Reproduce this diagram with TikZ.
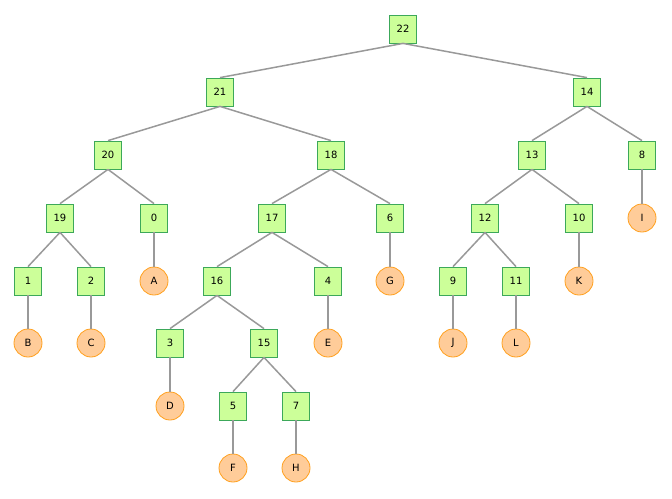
\documentclass[tikz,border=0pt]{standalone}
\usepackage{fontspec}
\setmainfont{DejaVu Sans}
\usepackage{tikz}
\usetikzlibrary{positioning}
\definecolor{boxfill}{HTML}{CCFF99}
\definecolor{boxline}{HTML}{3CA85A}
\definecolor{leaffill}{HTML}{FFCC99}
\definecolor{leafline}{HTML}{FFA01E}
\definecolor{edgegray}{HTML}{999999}
\tikzset{
  inner/.style = {
    rectangle, draw=boxline, fill=boxfill, line width=0.8pt,
    minimum width=27pt, minimum height=28pt, inner sep=0pt,
    font=\fontsize{10}{12}\selectfont
  },
  leaf/.style = {
    circle, draw=leafline, fill=leaffill, line width=0.8pt,
    minimum size=28pt, inner sep=0pt,
    font=\fontsize{10}{12}\selectfont
  },
  edge/.style = {draw=edgegray, line width=1.5pt}
}
\begin{document}
\begin{tikzpicture}[x=1pt, y=-1pt]
  \useasboundingbox (0,0) rectangle (672,498);

  % Internal nodes
  \node[inner] (n22) at (403,29)  {22};
  \node[inner] (n21) at (220,92)  {21};
  \node[inner] (n14) at (587,92)  {14};
  \node[inner] (n20) at (108,155) {20};
  \node[inner] (n18) at (331,155) {18};
  \node[inner] (n13) at (532,155) {13};
  \node[inner] (n8)  at (642,155) {8};
  \node[inner] (n19) at (60,218)  {19};
  \node[inner] (n0)  at (154,218) {0};
  \node[inner] (n17) at (272,218) {17};
  \node[inner] (n6)  at (390,218) {6};
  \node[inner] (n12) at (485,218) {12};
  \node[inner] (n10) at (579,218) {10};
  \node[inner] (n1)  at (28,281)  {1};
  \node[inner] (n2)  at (91,281)  {2};
  \node[inner] (n16) at (217,281) {16};
  \node[inner] (n4)  at (328,281) {4};
  \node[inner] (n9)  at (453,281) {9};
  \node[inner] (n11) at (516,281) {11};
  \node[inner] (n3)  at (170,343) {3};
  \node[inner] (n15) at (264,343) {15};
  \node[inner] (n5)  at (233,406) {5};
  \node[inner] (n7)  at (296,406) {7};

  % Leaves
  \node[leaf] (lI) at (642,218) {I};
  \node[leaf] (lA) at (154,281) {A};
  \node[leaf] (lG) at (390,281) {G};
  \node[leaf] (lK) at (579,281) {K};
  \node[leaf] (lB) at (28,343)  {B};
  \node[leaf] (lC) at (91,343)  {C};
  \node[leaf] (lE) at (328,343) {E};
  \node[leaf] (lJ) at (453,343) {J};
  \node[leaf] (lL) at (516,343) {L};
  \node[leaf] (lD) at (170,406) {D};
  \node[leaf] (lF) at (233,468) {F};
  \node[leaf] (lH) at (296,468) {H};

  % Edges, parent bottom to child top
  \draw[edge] (n22.south) -- (n21.north) (n22.south) -- (n14.north);
  \draw[edge] (n21.south) -- (n20.north) (n21.south) -- (n18.north);
  \draw[edge] (n14.south) -- (n13.north) (n14.south) -- (n8.north);
  \draw[edge] (n20.south) -- (n19.north) (n20.south) -- (n0.north);
  \draw[edge] (n18.south) -- (n17.north) (n18.south) -- (n6.north);
  \draw[edge] (n13.south) -- (n12.north) (n13.south) -- (n10.north);
  \draw[edge] (n8.south) -- (lI.north);
  \draw[edge] (n19.south) -- (n1.north) (n19.south) -- (n2.north);
  \draw[edge] (n0.south) -- (lA.north);
  \draw[edge] (n17.south) -- (n16.north) (n17.south) -- (n4.north);
  \draw[edge] (n6.south) -- (lG.north);
  \draw[edge] (n12.south) -- (n9.north) (n12.south) -- (n11.north);
  \draw[edge] (n10.south) -- (lK.north);
  \draw[edge] (n1.south) -- (lB.north);
  \draw[edge] (n2.south) -- (lC.north);
  \draw[edge] (n16.south) -- (n3.north) (n16.south) -- (n15.north);
  \draw[edge] (n4.south) -- (lE.north);
  \draw[edge] (n9.south) -- (lJ.north);
  \draw[edge] (n11.south) -- (lL.north);
  \draw[edge] (n3.south) -- (lD.north);
  \draw[edge] (n15.south) -- (n5.north) (n15.south) -- (n7.north);
  \draw[edge] (n5.south) -- (lF.north);
  \draw[edge] (n7.south) -- (lH.north);
\end{tikzpicture}
\end{document}
